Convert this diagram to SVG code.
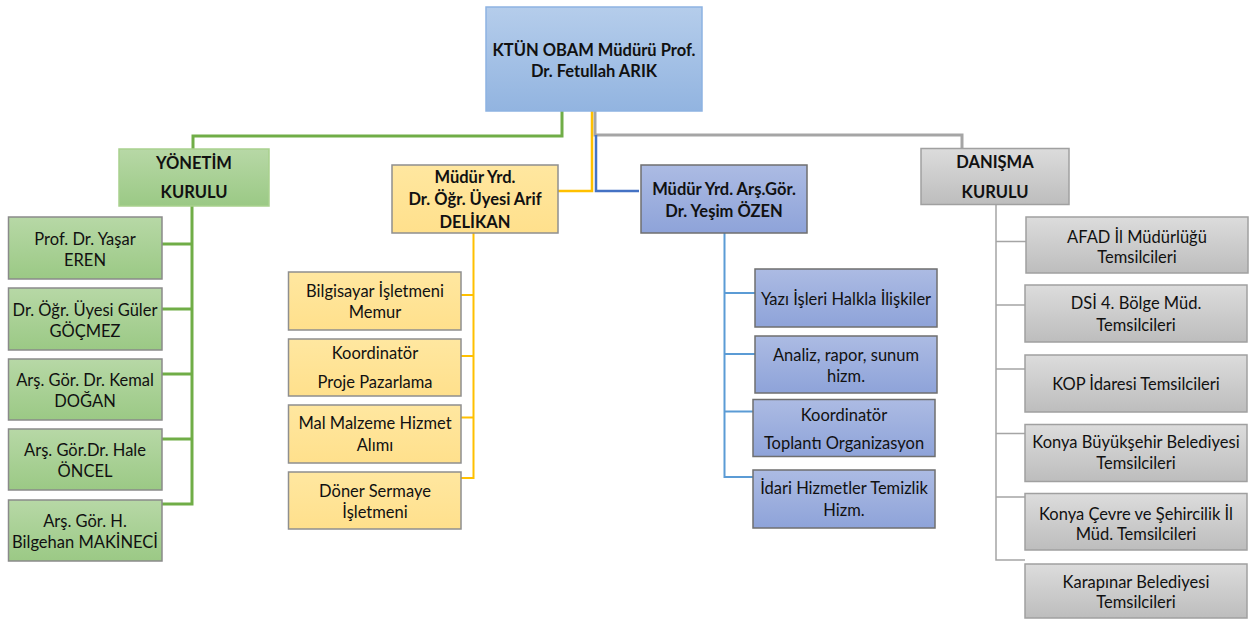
<svg xmlns="http://www.w3.org/2000/svg" width="1252" height="619" viewBox="0 0 1252 619">
<defs>
<linearGradient id="gBlueTop" x1="0" y1="0" x2="0" y2="1"><stop offset="0" stop-color="#b5cdeb"/><stop offset="1" stop-color="#92b4e0"/></linearGradient>
<linearGradient id="gGreen" x1="0" y1="0" x2="0" y2="1"><stop offset="0" stop-color="#b7d8a6"/><stop offset="1" stop-color="#9bc985"/></linearGradient>
<linearGradient id="gYellow" x1="0" y1="0" x2="0" y2="1"><stop offset="0" stop-color="#ffe7a0"/><stop offset="1" stop-color="#ffe08c"/></linearGradient>
<linearGradient id="gBlue" x1="0" y1="0" x2="0" y2="1"><stop offset="0" stop-color="#acbbe3"/><stop offset="1" stop-color="#8ea3d9"/></linearGradient>
<linearGradient id="gGray" x1="0" y1="0" x2="0" y2="1"><stop offset="0" stop-color="#dcdcdc"/><stop offset="1" stop-color="#bdbdbd"/></linearGradient>
</defs>
<style>
text{font-family:Lato,"Liberation Sans",sans-serif;font-size:16.5px;fill:#111;text-anchor:middle}
.b{font-weight:bold}
.top{fill:url(#gBlueTop);stroke:#8db3e2;stroke-width:1.5}
.gr{fill:url(#gGreen);stroke:#8a8a8a;stroke-width:1.5}
.grh{fill:url(#gGreen);stroke:#a9d18e;stroke-width:1.5}
.ye{fill:url(#gYellow);stroke:#8f8f8f;stroke-width:1.5}
.bl{fill:url(#gBlue);stroke:#6f6f6f;stroke-width:1.5}
.ga{fill:url(#gGray);stroke:#a0a0a0;stroke-width:1.5}
.c{fill:none;stroke-linejoin:miter}
</style>
<g id="connectors">
<polyline class="c" points="562,111 562,136 193,136 193,149" stroke="#70ad47" stroke-width="3"/>
<polyline class="c" points="595,111 595,135 962,135 962,148" stroke="#a5a5a5" stroke-width="3"/>
<polyline class="c" points="592,111 592,191 558,191" stroke="#ffc000" stroke-width="2.5"/>
<polyline class="c" points="596,135 596,191 639,191" stroke="#4472c4" stroke-width="2.5"/>
<polyline class="c" points="192,206 192,504 162,504" stroke="#70ad47" stroke-width="3"/>
<path class="c" d="M162,244H192M162,309H192M162,374H192M162,439H192" stroke="#70ad47" stroke-width="3"/>
<polyline class="c" points="473.5,233 473.5,478 461,478" stroke="#ffc000" stroke-width="2"/>
<path class="c" d="M461,295H473.5M461,356H473.5M461,417.5H473.5" stroke="#ffc000" stroke-width="2"/>
<polyline class="c" points="724.5,233 724.5,477 753,477" stroke="#5b9bd5" stroke-width="2"/>
<path class="c" d="M724.5,293H755M724.5,354H755M724.5,411.5H753" stroke="#5b9bd5" stroke-width="2"/>
<polyline class="c" points="996,204 996,560 1025,560" stroke="#a5a5a5" stroke-width="1.5"/>
<path class="c" d="M996,241.5H1026M996,305H1025M996,369H1025M996,433.5H1025M996,497H1025" stroke="#a5a5a5" stroke-width="1.5"/>
</g>
<g id="n-director"><rect class="top" x="486" y="7" width="216" height="104"/><text class="b" x="594" y="55.5">KTÜN OBAM Müdürü Prof.</text><text class="b" x="594" y="77">Dr. Fetullah ARIK</text></g>
<g id="n-yonetim"><rect class="grh" x="119" y="149" width="150" height="57"/><text class="b" x="194" y="169">YÖNETİM</text><text class="b" x="194" y="198">KURULU</text></g>
<g id="n-g1"><rect class="gr" x="8.5" y="217" width="153.5" height="62"/><text x="85" y="245">Prof. Dr. Yaşar</text><text x="85" y="266">EREN</text></g>
<g id="n-g2"><rect class="gr" x="8.5" y="288" width="153.5" height="62"/><text x="85" y="315.5">Dr. Öğr. Üyesi Güler</text><text x="85" y="336.5">GÖÇMEZ</text></g>
<g id="n-g3"><rect class="gr" x="8.5" y="359" width="153.5" height="61"/><text x="85" y="386">Arş. Gör. Dr. Kemal</text><text x="85" y="407">DOĞAN</text></g>
<g id="n-g4"><rect class="gr" x="8.5" y="429" width="153.5" height="61"/><text x="85" y="456">Arş. Gör.Dr. Hale</text><text x="85" y="477">ÖNCEL</text></g>
<g id="n-g5"><rect class="gr" x="8.5" y="500" width="153.5" height="61"/><text x="85" y="527">Arş. Gör. H.</text><text x="85" y="548">Bilgehan MAKİNECİ</text></g>
<g id="n-arif"><rect class="ye" x="392" y="165" width="166" height="68"/><text class="b" x="475" y="183">Müdür Yrd.</text><text class="b" x="475" y="205">Dr. Öğr. Üyesi Arif</text><text class="b" x="475" y="228">DELİKAN</text></g>
<g id="n-y1"><rect class="ye" x="288.5" y="272" width="172.5" height="58"/><text x="375" y="297">Bilgisayar İşletmeni</text><text x="375" y="318">Memur</text></g>
<g id="n-y2"><rect class="ye" x="288.5" y="339" width="172.5" height="57"/><text x="375" y="359">Koordinatör</text><text x="375" y="388">Proje Pazarlama</text></g>
<g id="n-y3"><rect class="ye" x="288.5" y="405" width="172.5" height="58"/><text x="375" y="429">Mal Malzeme Hizmet</text><text x="375" y="451">Alımı</text></g>
<g id="n-y4"><rect class="ye" x="288.5" y="472" width="172.5" height="57"/><text x="375" y="497">Döner Sermaye</text><text x="375" y="518">İşletmeni</text></g>
<g id="n-yesim"><rect class="bl" x="641" y="165" width="166" height="68"/><text class="b" x="724" y="195">Müdür Yrd. Arş.Gör.</text><text class="b" x="724" y="216.5">Dr. Yeşim ÖZEN</text></g>
<g id="n-b1"><rect class="bl" x="755" y="269" width="182" height="58"/><text x="846" y="305">Yazı İşleri Halkla İlişkiler</text></g>
<g id="n-b2"><rect class="bl" x="755" y="336" width="182" height="57"/><text x="846" y="361">Analiz, rapor, sunum</text><text x="846" y="382">hizm.</text></g>
<g id="n-b3"><rect class="bl" x="753" y="399.5" width="182" height="57"/><text x="844" y="421">Koordinatör</text><text x="844" y="449">Toplantı Organizasyon</text></g>
<g id="n-b4"><rect class="bl" x="753" y="470" width="182" height="58"/><text x="844" y="494">İdari Hizmetler Temizlik</text><text x="844" y="516">Hizm.</text></g>
<g id="n-danisma"><rect class="ga" x="921" y="148.5" width="148" height="56"/><text class="b" x="995" y="168">DANIŞMA</text><text class="b" x="995" y="197.5">KURULU</text></g>
<g id="n-d1"><rect class="ga" x="1026" y="217" width="222" height="56"/><text x="1137" y="243">AFAD İl Müdürlüğü</text><text x="1137" y="263">Temsilcileri</text></g>
<g id="n-d2"><rect class="ga" x="1025" y="285" width="222" height="57"/><text x="1136" y="309">DSİ 4. Bölge Müd.</text><text x="1136" y="331">Temsilcileri</text></g>
<g id="n-d3"><rect class="ga" x="1025" y="355" width="222" height="57"/><text x="1136" y="389.5">KOP İdaresi Temsilcileri</text></g>
<g id="n-d4"><rect class="ga" x="1025" y="424.5" width="222" height="57"/><text x="1136" y="448">Konya Büyükşehir Belediyesi</text><text x="1136" y="469">Temsilcileri</text></g>
<g id="n-d5"><rect class="ga" x="1025" y="493.5" width="222" height="56.5"/><text x="1136" y="519.5">Konya Çevre ve Şehircilik İl</text><text x="1136" y="539.5">Müd. Temsilcileri</text></g>
<g id="n-d6"><rect class="ga" x="1025" y="564" width="222" height="54"/><text x="1136" y="588">Karapınar Belediyesi</text><text x="1136" y="608">Temsilcileri</text></g>
</svg>
